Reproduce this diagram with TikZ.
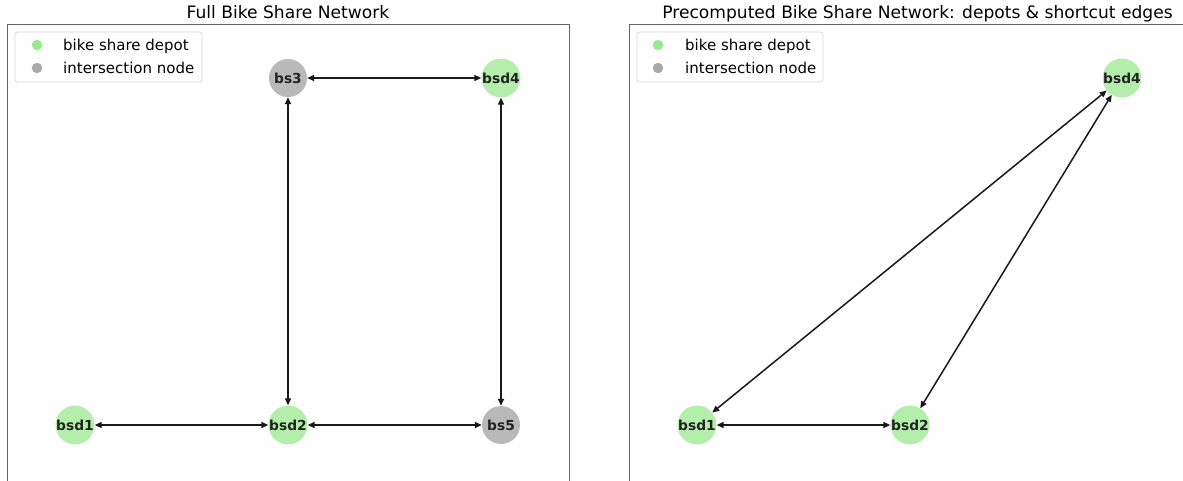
\documentclass[tikz,border=0pt]{standalone}
\usepackage{fontspec}
\setmainfont{DejaVu Sans}
\usetikzlibrary{arrows.meta}
\definecolor{depotfill}{HTML}{B3EEAB}
\definecolor{interfill}{HTML}{B9B9B9}
\definecolor{depotmark}{HTML}{98EA90}
\definecolor{intermark}{HTML}{A9A9A9}
\definecolor{labeltext}{HTML}{222222}
\tikzset{
  depot/.style={circle, fill=depotfill, minimum size=38pt, inner sep=0pt,
    text=labeltext, font=\fontsize{13.8}{16}\selectfont\bfseries},
  inter/.style={depot, fill=interfill},
  link/.style={line width=1.5pt, black!90, {Triangle[length=7pt,width=6pt]}-{Triangle[length=7pt,width=6pt]}},
  axframe/.style={draw=black!60, line width=1pt},
  plottitle/.style={anchor=base, font=\fontsize{17.1}{20}\selectfont, inner sep=0pt},
  legendbox/.style={draw=black!15, fill=white, rounded corners=2.5pt, line width=0.8pt},
  legendtext/.style={anchor=base west, font=\fontsize{15}{18}\selectfont, inner sep=0pt},
  legendmark/.style={circle, minimum size=10.5pt, inner sep=0pt},
}
\begin{document}
\begin{tikzpicture}[x=1pt,y=-1pt]
\useasboundingbox (0,0) rectangle (1183,480);
\fill[white] (0,0) rectangle (1183,480);

% axes frames (cut off at the lower and right edges)
\begin{scope}
  \clip (0,0) rectangle (1183,480);
  \draw[axframe] (7,24) rectangle (569,530);
  \draw[axframe] (629,24) rectangle (1200,530);
\end{scope}

% titles
\node[plottitle] (t1) at (288,18.5) {Full Bike Share Network};
\node[plottitle] (t2) at (917.5,18.5) {Precomputed Bike Share Network: depots \& shortcut edges};

% legends
\draw[legendbox] (15,32) rectangle (202,82);
\node[legendmark, fill=depotmark] (lm1) at (37,45) {};
\node[legendmark, fill=intermark] (lm2) at (37,68) {};
\node[legendtext] (lt1) at (63,50) {bike share depot};
\node[legendtext] (lt2) at (63,73) {intersection node};

\draw[legendbox] (637,32) rectangle (823,82);
\node[legendmark, fill=depotmark] (rm1) at (658,45) {};
\node[legendmark, fill=intermark] (rm2) at (658,68) {};
\node[legendtext] (rt1) at (685,50) {bike share depot};
\node[legendtext] (rt2) at (685,73) {intersection node};

% full network
\node[inter] (bs3)  at (288,78)  {bs3};
\node[depot] (bsd4) at (501,78)  {bsd4};
\node[depot] (bsd1) at (75,425)  {bsd1};
\node[depot] (bsd2) at (288,425) {bsd2};
\node[inter] (bs5)  at (501,425) {bs5};

\draw[link] (bs3) -- (bsd4);
\draw[link] (bs3) -- (bsd2);
\draw[link] (bsd4) -- (bs5);
\draw[link] (bsd1) -- (bsd2);
\draw[link] (bsd2) -- (bs5);

% precomputed network: depots joined by shortcut edges
\node[depot] (pbsd4) at (1122,78)  {bsd4};
\node[depot] (pbsd1) at (697,425)  {bsd1};
\node[depot] (pbsd2) at (910,425)  {bsd2};

\draw[link] (pbsd1) -- (pbsd2);
\draw[link] (pbsd1) -- (pbsd4);
\draw[link] (pbsd2) -- (pbsd4);
\end{tikzpicture}
\end{document}
